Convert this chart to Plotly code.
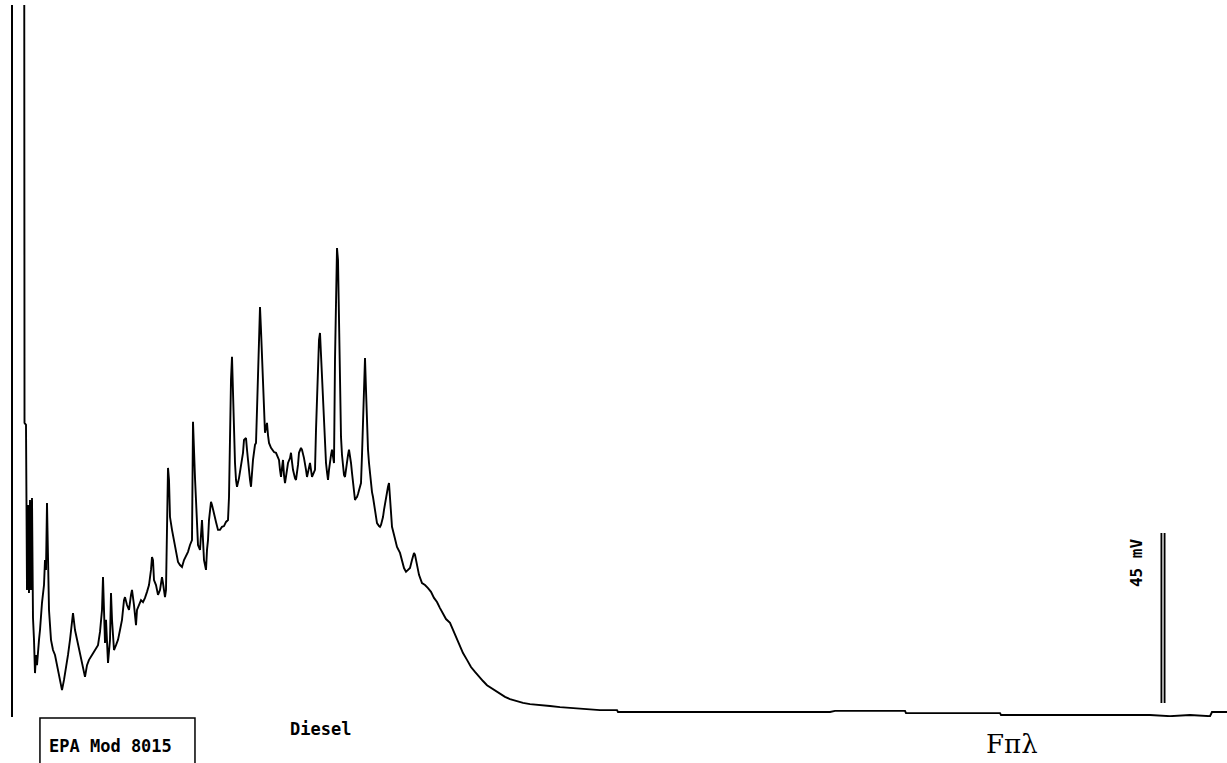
import plotly.graph_objects as go

# Retention time (min) and detector signal (mV)
time_min = [
    0.600, 0.613, 0.650, 0.663, 0.675, 0.700, 0.725, 0.750, 0.775, 0.800,
    0.825, 0.850, 0.875, 0.900, 0.925, 0.975, 1.000, 1.050, 1.100, 1.125,
    1.150, 1.175, 1.200, 1.225, 1.275, 1.325, 1.375, 1.425, 1.475, 1.525,
    1.550, 1.600, 1.650, 1.700, 1.750, 1.800, 1.825, 1.875, 1.925, 2.000,
    2.050, 2.125, 2.175, 2.225, 2.300, 2.375, 2.450, 2.500, 2.550, 2.575,
    2.600, 2.625, 2.650, 2.700, 2.750, 2.775, 2.800, 2.850, 2.900, 2.950,
    3.000, 3.050, 3.100, 3.125, 3.175, 3.225, 3.275, 3.300, 3.350, 3.400,
    3.425, 3.475, 3.525, 3.575, 3.625, 3.675, 3.725, 3.775, 3.800, 3.825,
    3.850, 3.900, 3.950, 4.000, 4.050, 4.075, 4.125, 4.150, 4.175, 4.200,
    4.225, 4.250, 4.300, 4.350, 4.400, 4.450, 4.500, 4.550, 4.600, 4.650,
    4.700, 4.750, 4.800, 4.825, 4.850, 4.875, 4.900, 4.925, 4.950, 5.000,
    5.025, 5.050, 5.100, 5.150, 5.175, 5.200, 5.225, 5.250, 5.275, 5.300,
    5.350, 5.400, 5.450, 5.500, 5.550, 5.600, 5.650, 5.700, 5.725, 5.750,
    5.775, 5.800, 5.825, 5.850, 5.875, 5.900, 5.925, 5.975, 6.025, 6.075,
    6.100, 6.150, 6.175, 6.200, 6.250, 6.275, 6.300, 6.325, 6.375, 6.400,
    6.425, 6.450, 6.475, 6.500, 6.525, 6.550, 6.575, 6.600, 6.625, 6.650,
    6.675, 6.700, 6.725, 6.775, 6.800, 6.850, 6.900, 6.950, 6.975, 7.000,
    7.025, 7.050, 7.075, 7.100, 7.125, 7.175, 7.200, 7.250, 7.275, 7.300,
    7.325, 7.375, 7.400, 7.450, 7.475, 7.525, 7.550, 7.600, 7.625, 7.650,
    7.675, 7.725, 7.750, 7.775, 7.800, 7.850, 7.875, 7.900, 7.925, 7.950,
    7.975, 8.000, 8.025, 8.050, 8.075, 8.100, 8.125, 8.150, 8.175, 8.200,
    8.225, 8.250, 8.275, 8.300, 8.325, 8.350, 8.375, 8.400, 8.425, 8.450,
    8.475, 8.500, 8.525, 8.550, 8.575, 8.600, 8.625, 8.650, 8.675, 8.700,
    8.725, 8.750, 8.775, 8.800, 8.825, 8.850, 8.875, 8.900, 8.925, 8.950,
    8.975, 9.000, 9.025, 9.050, 9.075, 9.100, 9.125, 9.150, 9.175, 9.200,
    9.225, 9.250, 9.275, 9.300, 9.325, 9.350, 9.375, 9.400, 9.425, 9.475,
    9.500, 9.525, 9.575, 9.600, 9.650, 9.700, 9.725, 9.750, 9.775, 9.800,
    9.850, 9.875, 9.925, 10.000, 10.050, 10.100, 10.150, 10.200, 10.250, 10.300,
    10.350, 10.375, 10.425, 10.475, 10.550, 10.625, 10.700, 10.775, 10.850, 10.925,
    11.000, 11.075, 11.150, 11.250, 11.325, 11.425, 11.500, 11.575, 11.675, 11.775,
    11.875, 11.975, 12.075, 12.175, 12.275, 12.375, 12.500, 12.625, 12.750, 12.900,
    13.075, 13.250, 13.500, 13.750, 14.000, 14.250, 14.575, 15.000, 15.425, 15.450,
    20.750, 20.875, 22.625, 22.650, 25.000, 25.025, 28.750, 29.250, 29.750, 30.250,
    30.300, 30.675,
]

signal_mv = [
    300.0, 76.5, 76.0, 56.1, 32.3, 54.8, 31.5, 56.1, 32.3, 56.6,
    24.9, 19.1, 10.3, 15.1, 12.4, 19.1, 21.7, 28.9, 33.6, 40.2,
    37.6, 55.3, 40.2, 27.0, 19.1, 16.4, 15.1, 12.4, 9.8, 7.1,
    5.8, 8.5, 11.6, 15.1, 19.1, 24.4, 26.2, 21.7, 19.1, 15.1,
    12.4, 9.3, 12.4, 13.8, 15.1, 16.4, 17.7, 21.2, 27.0, 35.7,
    27.0, 18.3, 24.4, 13.0, 19.1, 31.5, 24.4, 16.4, 17.7, 19.1,
    21.7, 24.4, 29.6, 30.4, 28.3, 27.0, 31.0, 32.3, 28.3, 23.0,
    27.0, 28.3, 29.6, 29.1, 30.2, 31.8, 33.6, 37.6, 41.0, 40.2,
    34.9, 33.6, 31.0, 32.3, 35.7, 34.1, 30.4, 32.3, 51.6, 64.6,
    61.4, 51.6, 48.2, 45.5, 42.4, 39.7, 38.9, 38.4, 40.2, 41.3,
    42.4, 44.2, 45.5, 76.8, 66.7, 61.9, 56.1, 48.2, 44.2, 42.9,
    48.2, 50.8, 40.2, 37.6, 42.9, 45.5, 50.8, 53.5, 55.6, 54.8,
    52.1, 50.3, 48.2, 48.2, 49.0, 49.2, 50.3, 50.8, 56.9, 79.4,
    87.9, 94.0, 82.1, 72.0, 65.9, 61.4, 59.6, 61.9, 65.4, 68.6,
    72.0, 72.5, 69.4, 66.2, 61.4, 59.6, 64.1, 66.7, 70.7, 71.2,
    79.9, 89.2, 101.1, 107.2, 101.1, 94.0, 87.9, 79.9, 73.9, 75.2,
    76.5, 73.3, 71.2, 69.9, 69.4, 68.8, 68.6, 67.2, 66.7, 64.1,
    62.2, 64.6, 66.7, 62.7, 60.6, 64.1, 65.9, 67.2, 68.6, 66.2,
    64.1, 61.9, 61.4, 65.4, 68.6, 69.9, 69.4, 67.2, 65.9, 64.1,
    62.2, 64.6, 65.9, 64.1, 62.2, 63.5, 64.1, 74.6, 82.6, 92.4,
    98.5, 100.3, 94.5, 87.9, 81.3, 74.6, 69.9, 65.9, 63.5, 61.4,
    64.1, 66.7, 68.0, 69.4, 67.2, 65.9, 93.2, 111.7, 122.8, 119.6,
    101.9, 85.2, 72.8, 68.0, 64.1, 62.7, 62.2, 64.6, 66.7, 68.0,
    69.4, 68.0, 65.9, 63.3, 60.6, 58.2, 56.1, 56.6, 56.9, 57.7,
    58.8, 59.6, 60.6, 68.0, 77.3, 87.9, 93.7, 85.2, 74.6, 69.4,
    65.9, 62.7, 59.6, 58.2, 56.9, 55.3, 53.5, 51.6, 50.0, 49.2,
    49.0, 49.5, 51.6, 53.5, 56.9, 59.6, 60.6, 57.4, 53.5, 49.0,
    46.9, 45.5, 43.7, 42.1, 40.2, 38.1, 37.1, 37.6, 38.1, 40.2,
    42.1, 41.6, 38.9, 36.3, 34.1, 33.6, 32.8, 31.8, 30.2, 29.1,
    27.5, 25.9, 24.6, 23.6, 21.7, 19.1, 17.2, 15.6, 13.8, 11.9,
    10.6, 9.3, 8.2, 7.1, 6.4, 5.6, 4.8, 4.0, 3.4, 2.9,
    2.4, 2.1, 1.9, 1.6, 1.3, 1.1, 0.8, 0.5, 0.5, 0.0,
    0.0, 0.3, 0.3, -0.3, -0.3, -0.8, -0.8, -1.1, -0.8, -1.1,
    0.0, 0.0,
]

# Scale bar
scale_bar_time = [29.075, 29.075]
scale_bar_mv = [2.4, 47.4]
scale_label = "45 mV"

method_label = "EPA Mod 8015"
sample_label = "Diesel"
initials_label = "Fπλ"

x_range = [0.325, 30.675]
y_range = [-1.32, 187.1]

fig = go.Figure()
fig.add_trace(go.Scatter(
    x=time_min, y=signal_mv, mode="lines",
    line=dict(color="black", width=1.9), hoverinfo="skip",
))
fig.add_trace(go.Scatter(
    x=scale_bar_time, y=scale_bar_mv, mode="lines",
    line=dict(color="black", width=5), hoverinfo="skip",
))
fig.add_trace(go.Scatter(
    x=scale_bar_time, y=scale_bar_mv, mode="lines",
    line=dict(color="white", width=1.3), hoverinfo="skip",
))

mono = "DejaVu Sans Mono"
fig.update_layout(
    width=1227, height=763,
    margin=dict(l=13, r=0, t=5, b=46),
    paper_bgcolor="white", plot_bgcolor="white",
    showlegend=False,
    xaxis=dict(range=x_range, visible=False, fixedrange=True),
    yaxis=dict(range=y_range, showline=True, linecolor="black", linewidth=1.6,
               showgrid=False, zeroline=False, showticklabels=False, ticks="",
               fixedrange=True),
    annotations=[
        dict(text=method_label, xref="paper", yref="paper", x=0.0807, y=-0.0407,
             xanchor="center", yanchor="middle", showarrow=False,
             font=dict(family=mono, size=17, color="black", weight="bold")),
        dict(text=sample_label, xref="paper", yref="paper", x=0.2537, y=-0.0169,
             xanchor="center", yanchor="middle", showarrow=False,
             font=dict(family=mono, size=17, color="black", weight="bold")),
        dict(text=initials_label, xref="paper", yref="paper", x=0.8229, y=-0.0385,
             xanchor="center", yanchor="middle", showarrow=False,
             font=dict(family="DejaVu Serif", size=26, color="black")),
        dict(text=scale_label, xref="paper", yref="paper", x=0.9259, y=0.2163,
             xanchor="center", yanchor="middle", showarrow=False, textangle=-90,
             font=dict(family=mono, size=16, color="black", weight="bold")),
    ],
    shapes=[
        dict(type="rect", xref="paper", yref="paper",
             x0=0.0222, x1=0.1499, y0=-0.0014, y1=-0.0815,
             line=dict(color="black", width=1.5)),
    ],
)

fig.write_html("out.html", config={"displayModeBar": False},
               post_script="document.body.style.margin='0';")
